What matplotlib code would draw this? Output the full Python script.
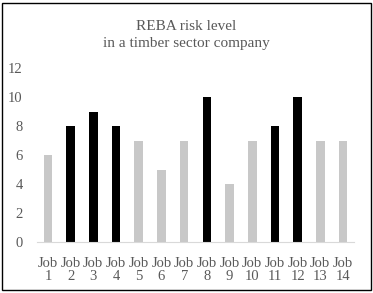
import matplotlib
matplotlib.use("Agg")
import matplotlib.pyplot as plt
from matplotlib.patches import Rectangle

jobs = ["Job\n%d" % i for i in range(1, 15)]
reba = [6, 8, 9, 8, 7, 5, 7, 10, 4, 7, 8, 10, 7, 7]
high_risk = [False, True, True, True, False, False, False, True, False, False, True, True, False, False]

plt.rcParams['font.family'] = ['Liberation Serif', 'DejaVu Serif']
txt = '#595959'

fig = plt.figure(figsize=(3.73, 2.93), dpi=100)
ax = fig.add_axes([36.6 / 373, 1 - 242 / 293, (354.4 - 36.6) / 373, (242 - 68) / 293])

colors = ['black' if h else '#c8c8c8' for h in high_risk]
ax.bar(range(len(reba)), reba, width=0.38, color=colors)

ax.set_xlim(-0.5, len(reba) - 0.5)
ax.set_ylim(0, 12)
ax.set_yticks(range(0, 13, 2))
ax.set_xticks(range(len(reba)))
ax.set_xticklabels(jobs, fontsize=10.5, color=txt, linespacing=0.95)
ax.tick_params(axis='y', labelsize=10.5, colors=txt, length=0, pad=10)
ax.tick_params(axis='x', length=0, pad=11)
for s in ['top', 'right', 'left']:
    ax.spines[s].set_visible(False)
ax.spines['bottom'].set_color('#d9d9d9')

fig.text(0.5, 1 - 35 / 293, "REBA risk level\nin a timber sector company", ha='center', va='center',
         fontsize=11, color=txt, linespacing=1.35)

fig.patches.append(Rectangle((2 / 373, 3 / 293), 369 / 373, 287 / 293, transform=fig.transFigure,
                             fill=False, edgecolor='black', linewidth=1))

fig.savefig('out.png', dpi=100)
